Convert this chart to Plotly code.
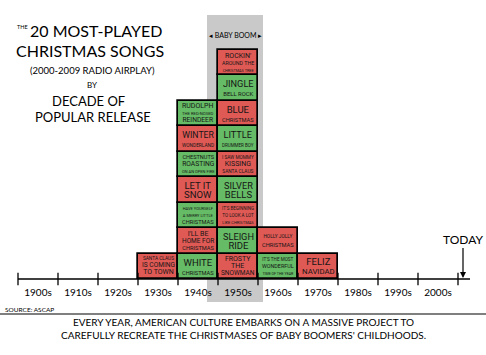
import plotly.graph_objects as go

# ---- data ----
decades = [1900, 1910, 1920, 1930, 1940, 1950, 1960, 1970, 1980, 1990, 2000]
decade_labels = ["1900s", "1910s", "1920s", "1930s", "1940s", "1950s",
                 "1960s", "1970s", "1980s", "1990s", "2000s"]

# songs listed bottom-to-top within each decade
song_decade = [1930,
               1940, 1940, 1940, 1940, 1940, 1940, 1940,
               1950, 1950, 1950, 1950, 1950, 1950, 1950, 1950, 1950,
               1960, 1960,
               1970]
song_titles = [
    "SANTA CLAUS<br>IS COMING<br>TO TOWN",
    "WHITE<br>CHRISTMAS",
    "I'LL BE<br>HOME FOR<br>CHRISTMAS",
    "HAVE YOURSELF<br>A MERRY LITTLE<br>CHRISTMAS",
    "LET IT<br>SNOW",
    "CHESTNUTS<br>ROASTING<br>ON AN OPEN FIRE",
    "WINTER<br>WONDERLAND",
    "RUDOLPH<br>THE RED-NOSED<br>REINDEER",
    "FROSTY<br>THE<br>SNOWMAN",
    "SLEIGH<br>RIDE",
    "IT'S BEGINNING<br>TO LOOK A LOT<br>LIKE CHRISTMAS",
    "SILVER<br>BELLS",
    "I SAW MOMMY<br>KISSING<br>SANTA CLAUS",
    "LITTLE<br>DRUMMER BOY",
    "BLUE<br>CHRISTMAS",
    "JINGLE<br>BELL ROCK",
    "ROCKIN'<br>AROUND THE<br>CHRISTMAS TREE",
    "IT'S THE MOST<br>WONDERFUL<br>TIME OF THE YEAR",
    "HOLLY JOLLY<br>CHRISTMAS",
    "FELIZ<br>NAVIDAD",
]
song_color = ["r",
              "g", "r", "g", "r", "g", "r", "g",
              "r", "g", "r", "g", "r", "g", "r", "g", "r",
              "g", "r",
              "r"]

baby_boom = (1947.25, 1961.25)
today_year = 2011.25

RED = "#e05a55"
GREEN = "#66bb66"
GRAY = "#c9c9c9"
FONT = "Lato, Roboto, sans-serif"
BOX_FONT = "Roboto, Lato, sans-serif"

# stack positions
counts = {}
bases = []
for d in song_decade:
    bases.append(counts.get(d, 0))
    counts[d] = counts.get(d, 0) + 1
x_centers = [d + 5 for d in song_decade]
y_centers = [b + 0.5 for b in bases]
colors = [RED if c == "r" else GREEN for c in song_color]

fig = go.Figure()
fig.add_trace(go.Bar(
    x=x_centers, y=[1] * len(song_titles), base=bases, width=10,
    marker=dict(color=colors, line=dict(color="black", width=1.7)),
    hoverinfo="skip", showlegend=False,
))
# axis tick marks crossing the timeline
tick_x = decades + [2010]
fig.add_trace(go.Scatter(
    x=tick_x, y=[0] * len(tick_x), mode="markers",
    marker=dict(symbol="line-ns", size=9, line=dict(color="black", width=1.3)),
    cliponaxis=False, hoverinfo="skip", showlegend=False,
))

H_PLOT = 279.0
def py(px):
    return (H_PLOT - px) / H_PLOT

shapes = [
    dict(type="rect", xref="x", yref="paper", x0=baby_boom[0], x1=baby_boom[1],
         y0=py(302), y1=py(15), fillcolor=GRAY, line=dict(width=0), layer="below"),
    dict(type="line", xref="x", yref="paper", x0=1900, x1=2013, y0=0, y1=0,
         line=dict(color="black", width=1.5)),
    dict(type="line", xref="paper", yref="paper", x0=0, x1=1, y0=py(314), y1=py(314),
         line=dict(color="black", width=1.2)),
]

def ann(text, x, y, size, xanchor="center"):
    return dict(text=text, x=x / 486.0, y=py(y), xref="paper", yref="paper",
                showarrow=False, xanchor=xanchor, yanchor="middle",
                font=dict(family=FONT, size=size, color="black"))

# ---- fit each title line to the box width (styling, computed) ----
def em_width(s):
    w = 0.0
    for c in s:
        if c in " '.,I":
            w += 0.27
        elif c in "MW":
            w += 0.88
        elif c == "-":
            w += 0.36
        else:
            w += 0.66
    return w

def box_label(title):
    lines = title.split("<br>")
    cap = 9.5 if len(lines) <= 2 else 7.0
    parts = []
    for ln in lines:
        s = min(cap, 33.0 / em_width(ln))
        parts.append("<span style='font-size:%.1fpx'>%s</span>" % (s, ln))
    base = 7.3 if len(lines) <= 2 else 5.3
    return "<br>".join(parts), base

annotations = []
for t, xc, yc in zip(song_titles, x_centers, y_centers):
    txt, base = box_label(t)
    annotations.append(dict(text=txt, x=xc, y=yc, xref="x", yref="y",
                            showarrow=False, xanchor="center", yanchor="middle",
                            borderpad=0,
                            font=dict(family=BOX_FONT, size=base, color="#151515")))

annotations += [
    ann("THE", 22, 27, 5.5),
    ann("20 MOST-PLAYED", 96, 30, 16),
    ann("CHRISTMAS SONGS", 90, 51, 16),
    ann("(2000-2009 RADIO AIRPLAY)", 92, 70, 9.5),
    ann("BY", 92, 85, 8),
    ann("DECADE OF", 88, 101, 13),
    ann("POPULAR RELEASE", 93, 117, 13),
    ann("◂ BABY BOOM ▸", 235, 35, 7),
    ann("SOURCE: ASCAP", 3, 309, 6.5, xanchor="left"),
    ann("EVERY YEAR, AMERICAN CULTURE EMBARKS ON A MASSIVE PROJECT TO<br>"
        "CAREFULLY RECREATE THE CHRISTMASES OF BABY BOOMERS' CHILDHOODS.",
        243, 328, 10),
    dict(text="TODAY", x=today_year, y=0, xref="x", yref="y",
         showarrow=True, arrowhead=2, arrowsize=1, arrowwidth=1.2,
         arrowcolor="black", ax=0, ay=-40, standoff=1,
         font=dict(family=FONT, size=12, color="black")),
]

fig.update_layout(
    width=486, height=355,
    margin=dict(l=0, r=0, t=0, b=76),
    paper_bgcolor="white", plot_bgcolor="white",
    bargap=0, barmode="overlay",
    xaxis=dict(range=[1895.5, 2017], tickvals=[d + 5 for d in decades],
               ticktext=decade_labels, ticks="", showgrid=False, zeroline=False,
               showline=False, tickfont=dict(family=FONT, size=10, color="black"),
               ticklabelstandoff=6, fixedrange=True),
    yaxis=dict(range=[0, 279 / 25.5], visible=False, fixedrange=True),
    shapes=shapes, annotations=annotations,
)

fig.write_html("out.html")
